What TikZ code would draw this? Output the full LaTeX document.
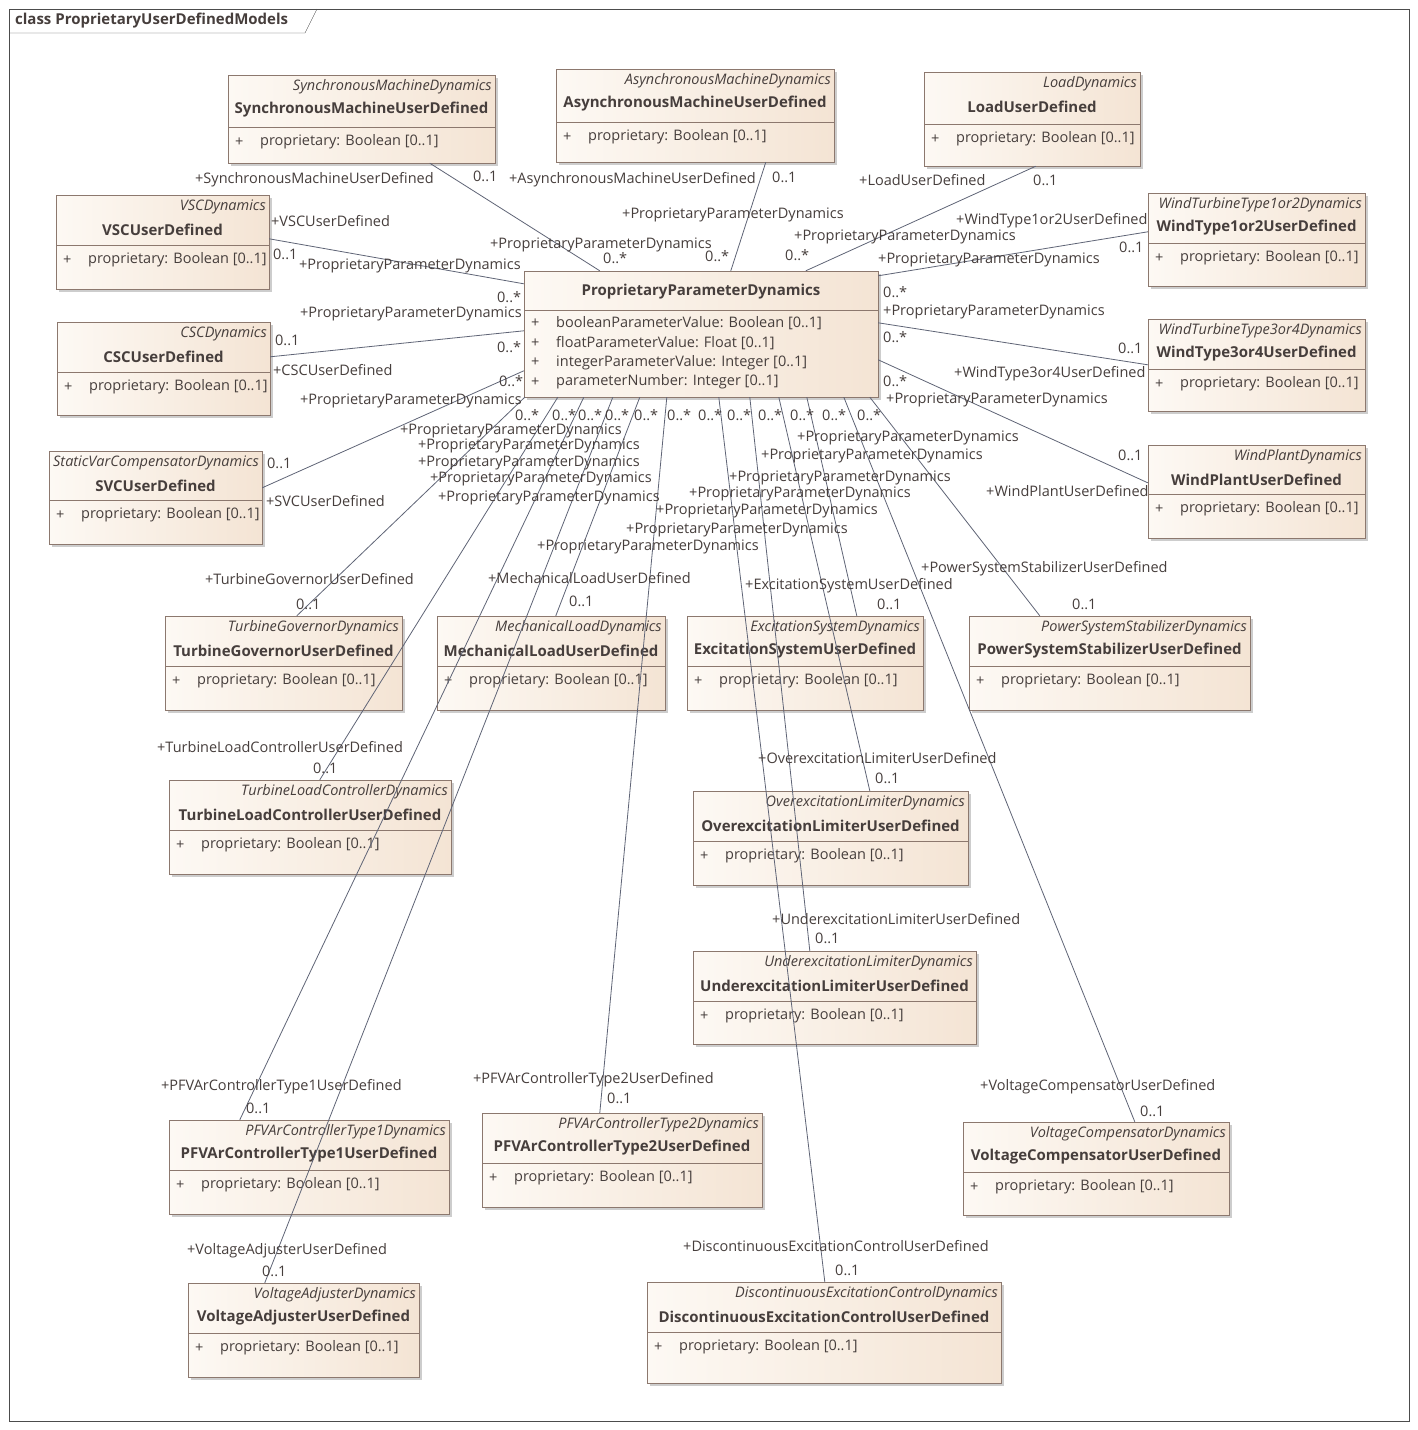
\documentclass[tikz,border=0pt]{standalone}
\usepackage{fontspec}
\setmainfont{Open Sans}
\usetikzlibrary{fit}
\definecolor{txtc}{RGB}{70,62,60}
\definecolor{linec}{RGB}{95,100,118}
\definecolor{boxc}{RGB}{140,120,110}
\definecolor{fillL}{RGB}{253,249,244}
\definecolor{fillR}{RGB}{244,228,212}
\definecolor{shadc}{RGB}{205,205,205}
\tikzset{
  classbox/.style={draw=boxc, left color=fillL, right color=fillR, inner sep=0pt},
  stereo/.style={font=\fontsize{14.5}{16}\selectfont\itshape, text=txtc, inner sep=0pt},
  title/.style={font=\fontsize{15}{17}\selectfont\bfseries, text=txtc, inner sep=0pt},
  attr/.style={font=\fontsize{14.5}{16}\selectfont, text=txtc, inner sep=0pt, anchor=west},
  lbl/.style={font=\fontsize{14.5}{16}\selectfont, text=txtc, inner sep=0pt, anchor=west},
  assoc/.style={draw=linec, line width=0.8pt}
}
% name, x1, y1, x2, y2, separator, stereotype, class name
\newcommand{\umlclass}[8]{%
  \fill[shadc] (#2+3,#3+3) rectangle (#4+3,#5+3);
  \node[classbox, fit={(#2,#3) (#4,#5)}] (#1) {};
  \draw[boxc] (#2,#6) -- (#4,#6);
  \node[stereo, anchor=east] at ({#4-3},{#3+12}) {#7};
  \node[title] at ({(#2+#4)/2},{#3+35}) {#8};
  \node[attr] at ({#2+7},{#6+15}) {+};
  \node[attr] at ({#2+32},{#6+15}) {proprietary: Boolean [0..1]};
}

\begin{document}
\begin{tikzpicture}[x=1pt,y=-1pt]
  \useasboundingbox[fill=white] (0,0) rectangle (1417,1430);
  % frame
  \draw[black!70] (9,9) rectangle (1409,1421);
  \draw[black!70] (9,33) -- (305,33) -- (317,9);
  \node[title, anchor=west] (frametitle) at (15,21) {class ProprietaryUserDefinedModels};

  % central class
  \fill[shadc] (527,274) rectangle (881,400);
  \node[classbox, fit={(524,271) (878,397)}] (ppd) {};
  \draw[boxc] (524,310) -- (878,310);
  \node[title] at (701,292) {ProprietaryParameterDynamics};
  \foreach \a [count=\i] in {booleanParameterValue: Boolean [0..1],
      floatParameterValue: Float [0..1], integerParameterValue: Integer [0..1],
      parameterNumber: Integer [0..1]} {
    \node[attr] at (531,{304+19.5*\i}) {+};
    \node[attr] at (556,{304+19.5*\i}) {\a};
  }

  % user defined classes
  \umlclass{sm}{228}{75}{495}{163}{127}{SynchronousMachineDynamics}{SynchronousMachineUserDefined}
  \umlclass{am}{556}{69}{834}{162}{122}{AsynchronousMachineDynamics}{AsynchronousMachineUserDefined}
  \umlclass{ld}{924}{72}{1140}{166}{124}{LoadDynamics}{LoadUserDefined}
  \umlclass{vsc}{56}{195}{269}{289}{245}{VSCDynamics}{VSCUserDefined}
  \umlclass{wt12}{1148}{193}{1365}{286}{243}{WindTurbineType1or2Dynamics}{WindType1or2UserDefined}
  \umlclass{csc}{57}{322}{270}{415}{372}{CSCDynamics}{CSCUserDefined}
  \umlclass{wt34}{1148}{319}{1365}{411}{369}{WindTurbineType3or4Dynamics}{WindType3or4UserDefined}
  \umlclass{svc}{49}{451}{262}{544}{500}{StaticVarCompensatorDynamics}{SVCUserDefined}
  \umlclass{wp}{1148}{445}{1365}{538}{494}{WindPlantDynamics}{WindPlantUserDefined}
  \umlclass{tg}{165}{616}{402}{710}{666}{TurbineGovernorDynamics}{TurbineGovernorUserDefined}
  \umlclass{ml}{437}{616}{665}{710}{666}{MechanicalLoadDynamics}{MechanicalLoadUserDefined}
  \umlclass{es}{687}{616}{923}{710}{666}{ExcitationSystemDynamics}{ExcitationSystemUserDefined}
  \umlclass{pss}{969}{616}{1250}{710}{666}{PowerSystemStabilizerDynamics}{PowerSystemStabilizerUserDefined}
  \umlclass{tlc}{169}{780}{451}{874}{830}{TurbineLoadControllerDynamics}{TurbineLoadControllerUserDefined}
  \umlclass{oel}{693}{791}{968}{885}{841}{OverexcitationLimiterDynamics}{OverexcitationLimiterUserDefined}
  \umlclass{uel}{693}{951}{976}{1044}{1001}{UnderexcitationLimiterDynamics}{UnderexcitationLimiterUserDefined}
  \umlclass{pf1}{169}{1120}{449}{1214}{1170}{PFVArControllerType1Dynamics}{PFVArControllerType1UserDefined}
  \umlclass{pf2}{482}{1113}{762}{1207}{1163}{PFVArControllerType2Dynamics}{PFVArControllerType2UserDefined}
  \umlclass{vc}{963}{1122}{1229}{1215}{1172}{VoltageCompensatorDynamics}{VoltageCompensatorUserDefined}
  \umlclass{va}{188}{1283}{419}{1377}{1333}{VoltageAdjusterDynamics}{VoltageAdjusterUserDefined}
  \umlclass{dec}{647}{1282}{1001}{1383}{1332}{DiscontinuousExcitationControlDynamics}{DiscontinuousExcitationControlUserDefined}

  % associations
  \draw[assoc] ([xshift=202pt]sm.south west) -- ([xshift=76pt]ppd.north west);
  \draw[assoc] ([xshift=210pt]am.south west) -- ([xshift=207pt]ppd.north west);
  \draw[assoc] ([xshift=112pt]ld.south west) -- ([xshift=282pt]ppd.north west);
  \draw[assoc] ([yshift=-44pt]vsc.north east) -- ([yshift=-13pt]ppd.north west);
  \draw[assoc] ([yshift=-39pt]wt12.north west) -- ([yshift=-5pt]ppd.north east);
  \draw[assoc] ([yshift=-35pt]csc.north east) -- ([yshift=-60pt]ppd.north west);
  \draw[assoc] ([yshift=-46pt]wt34.north west) -- ([yshift=-52pt]ppd.north east);
  \draw[assoc] ([yshift=-37pt]svc.north east) -- ([yshift=-100pt]ppd.north west);
  \draw[assoc] ([yshift=-38pt]wp.north west) -- ([yshift=-89pt]ppd.north east);
  \draw[assoc] ([xshift=132pt]tg.north west) -- ([xshift=1pt]ppd.south west);
  \draw[assoc] ([xshift=151pt]tlc.north west) -- ([xshift=34pt]ppd.south west);
  \draw[assoc] ([xshift=71pt]pf1.north west) -- ([xshift=60pt]ppd.south west);
  \draw[assoc] ([xshift=77pt]va.north west) -- ([xshift=89pt]ppd.south west);
  \draw[assoc] ([xshift=119pt]ml.north west) -- ([xshift=116pt]ppd.south west);
  \draw[assoc] ([xshift=118pt]pf2.north west) -- ([xshift=143pt]ppd.south west);
  \draw[assoc] ([xshift=178pt]dec.north west) -- ([xshift=195pt]ppd.south west);
  \draw[assoc] ([xshift=117pt]uel.north west) -- ([xshift=226pt]ppd.south west);
  \draw[assoc] ([xshift=177pt]oel.north west) -- ([xshift=255pt]ppd.south west);
  \draw[assoc] ([xshift=170pt]es.north west) -- ([xshift=283pt]ppd.south west);
  \draw[assoc] ([xshift=172pt]vc.north west) -- ([xshift=320pt]ppd.south west);
  \draw[assoc] ([xshift=71pt]pss.north west) -- ([xshift=346pt]ppd.south west);

  % role names and multiplicities
  \foreach \x/\y/\t [count=\i] in {
    195/180/+SynchronousMachineUserDefined, 473/176/0..1,
    509/180/+AsynchronousMachineUserDefined, 772/177/0..1,
    859/180/+LoadUserDefined, 1033/180/0..1,
    622/215/+ProprietaryParameterDynamics, 490/245/+ProprietaryParameterDynamics,
    603/258/0..*, 705/256/0..*, 785/255/0..*,
    794/237/+ProprietaryParameterDynamics, 956/221/+WindType1or2UserDefined,
    1119/247/0..1, 878/260/+ProprietaryParameterDynamics,
    271/221/+VSCUserDefined, 273/254/0..1, 299/266/+ProprietaryParameterDynamics,
    497/297/0..*, 300/314/+ProprietaryParameterDynamics, 275/340/0..1,
    497/347/0..*, 273/370/+CSCUserDefined, 499/381/0..*,
    300/401/+ProprietaryParameterDynamics, 267/463/0..1, 266/501/+SVCUserDefined,
    883/292/0..*, 883/312/+ProprietaryParameterDynamics, 883/337/0..*,
    1118/348/0..1, 954/374/+WindType3or4UserDefined, 883/381/0..*,
    886/400/+ProprietaryParameterDynamics, 1118/455/0..1, 986/491/+WindPlantUserDefined,
    515/415/0..*, 552/415/0..*, 578/415/0..*, 605/415/0..*, 634/415/0..*,
    667/415/0..*, 698/415/0..*, 727/415/0..*, 758/415/0..*, 790/415/0..*,
    822/415/0..*, 857/415/0..*,
    400/431/+ProprietaryParameterDynamics, 418/446/+ProprietaryParameterDynamics,
    418/463/+ProprietaryParameterDynamics, 430/479/+ProprietaryParameterDynamics,
    438/498/+ProprietaryParameterDynamics, 537/547/+ProprietaryParameterDynamics,
    626/530/+ProprietaryParameterDynamics, 656/511/+ProprietaryParameterDynamics,
    689/494/+ProprietaryParameterDynamics, 729/478/+ProprietaryParameterDynamics,
    761/456/+ProprietaryParameterDynamics, 797/438/+ProprietaryParameterDynamics,
    205/579/+TurbineGovernorUserDefined, 296/604/0..1,
    488/578/+MechanicalLoadUserDefined, 569/601/0..1,
    745/586/+ExcitationSystemUserDefined, 877/604/0..1,
    921/569/+PowerSystemStabilizerUserDefined, 1072/604/0..1,
    157/747/+TurbineLoadControllerUserDefined, 313/768/0..1,
    758/758/+OverexcitationLimiterUserDefined, 875/778/0..1,
    772/919/+UnderexcitationLimiterUserDefined, 815/938/0..1,
    161/1087/+PFVArControllerType1UserDefined, 246/1108/0..1,
    473/1080/+PFVArControllerType2UserDefined, 607/1098/0..1,
    980/1087/+VoltageCompensatorUserDefined, 1140/1111/0..1,
    187/1251/+VoltageAdjusterUserDefined, 262/1271/0..1,
    683/1246/+DiscontinuousExcitationControlUserDefined, 835/1270/0..1}
    \node[lbl] (lab\i) at (\x,\y) {\t};
\end{tikzpicture}
\end{document}
